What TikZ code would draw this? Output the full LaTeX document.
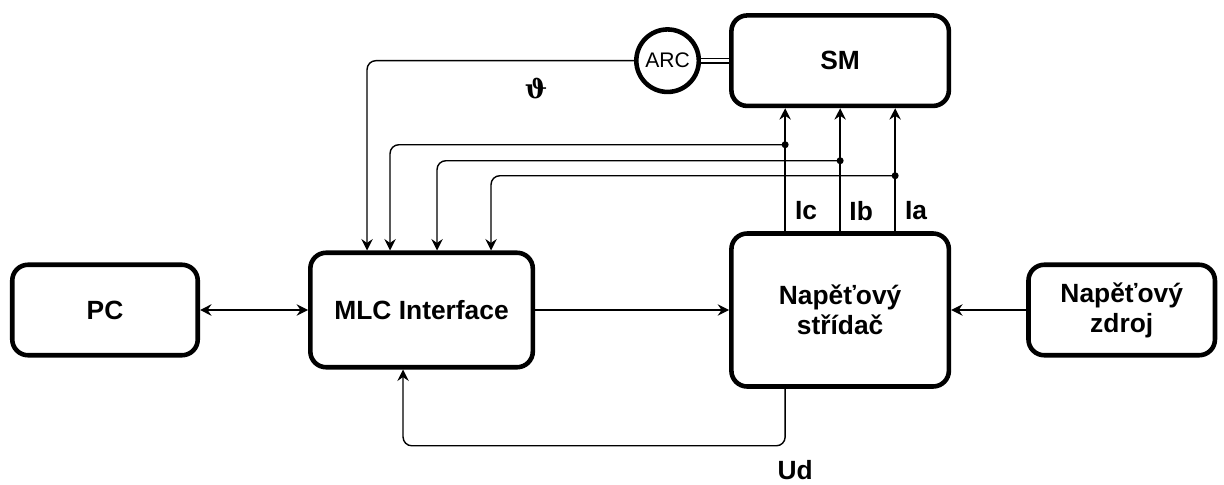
\documentclass[tikz,border=0pt]{standalone}
\usepackage{fontspec}
\setmainfont{Liberation Sans}
\newfontfamily\thetafont{DejaVu Serif}
\usetikzlibrary{arrows.meta, positioning}

\begin{document}
\begin{tikzpicture}[
    >={Stealth[length=6.5pt, width=6.5pt, inset=2.2pt]},
    box/.style={
      draw, line width=2.6pt, rounded corners=9pt,
      align=center, font=\fontsize{15}{17}\selectfont\bfseries
    },
    arcnode/.style={
      draw, circle, line width=2.6pt, minimum size=1.25cm,
      inner sep=0pt, font=\fontsize{12}{14}\selectfont
    },
    lbl/.style={font=\fontsize{15}{17}\selectfont\bfseries, inner sep=1pt},
    arrow/.style={->, line width=0.8pt},
    wire/.style={line width=0.8pt, rounded corners=5pt},
    dot/.style={circle, fill, inner sep=0pt, minimum size=4pt}
  ]

    \useasboundingbox (0,0) rectangle (24.48,-9.7);

    % --- PC ---
    \node[box, minimum width=3.71cm, minimum height=1.81cm] (pc) at (2.1,-6.2) {PC};

    % --- MLC interface ---
    \node[box, minimum width=4.45cm, minimum height=2.29cm,
          right=2.16cm of pc] (mlc) {MLC Interface};

    % --- Inverter ---
    \node[box, minimum width=4.35cm, minimum height=3.06cm,
          right=3.88cm of mlc] (str) {Napěťový\\střídač};

    % --- Source ---
    \node[box, minimum width=3.73cm, minimum height=1.81cm,
          right=1.5cm of str] (zdroj) {Napěťový\\zdroj};

    % --- Motor ---
    \node[box, minimum width=4.35cm, minimum height=1.81cm,
          above=2.46cm of str] (sm) {SM};

    % --- Sensor ---
    \node[arcnode, left=0.56cm of sm] (arc) {ARC};

    % --- Phase currents ---
    \coordinate (ic) at ([xshift=-1.1cm]str.north);
    \coordinate (ib) at (str.north);
    \coordinate (ia) at ([xshift=1.1cm]str.north);

    \draw[arrow] (ic) -- (ic |- sm.south);
    \draw[arrow] (ib) -- (ib |- sm.south);
    \draw[arrow] (ia) -- (ia |- sm.south);

    \node[lbl] (icl) at ([xshift=0.42cm,yshift=0.41cm]ic) {Ic};
    \node[lbl] (ibl) at ([xshift=0.42cm,yshift=0.41cm]ib) {Ib};
    \node[lbl] (ial) at ([xshift=0.42cm,yshift=0.41cm]ia) {Ia};

    % taps on the current lines
    \node[dot] (jc) at ([yshift=1.73cm]ic) {};
    \node[dot] (jb) at ([yshift=1.41cm]ib) {};
    \node[dot] (ja) at ([yshift=1.11cm]ia) {};

    % inputs on top of MLC
    \coordinate (m1) at ([xshift=1.18cm]mlc.north west);
    \coordinate (m2) at ([xshift=1.64cm]mlc.north west);
    \coordinate (m3) at ([xshift=2.58cm]mlc.north west);
    \coordinate (m4) at ([xshift=3.66cm]mlc.north west);

    \draw[arrow, wire] (jc.center) -| (m2);
    \draw[arrow, wire] (jb.center) -| (m3);
    \draw[arrow, wire] (ja.center) -| (m4);

    % --- Position feedback ---
    \draw[line width=0.8pt, double, double distance=1.8pt] (arc) -- (sm);
    \draw[arrow, wire] (arc.west) -| (m1);
    \node[font=\fontsize{15}{17}\selectfont\thetafont\bfseries] (theta)
      at ([xshift=-1.96cm,yshift=-0.55cm]arc.west) {ϑ};

    % --- Horizontal links ---
    \draw[<->, line width=0.8pt] (pc) -- (mlc);
    \draw[arrow] (mlc) -- (str);
    \draw[arrow] (zdroj) -- (str);

    % --- DC link voltage ---
    \coordinate (ud) at ([xshift=-1.1cm]str.south);
    \coordinate (udk) at ([yshift=-1.14cm]ud);
    \coordinate (mb) at ([xshift=1.9cm]mlc.south west);
    \draw[arrow, wire] (ud) -- (udk) -| (mb);
    \node[lbl] (udl) at ([xshift=0.2cm,yshift=-0.48cm]udk) {Ud};

  \end{tikzpicture}
\end{document}
